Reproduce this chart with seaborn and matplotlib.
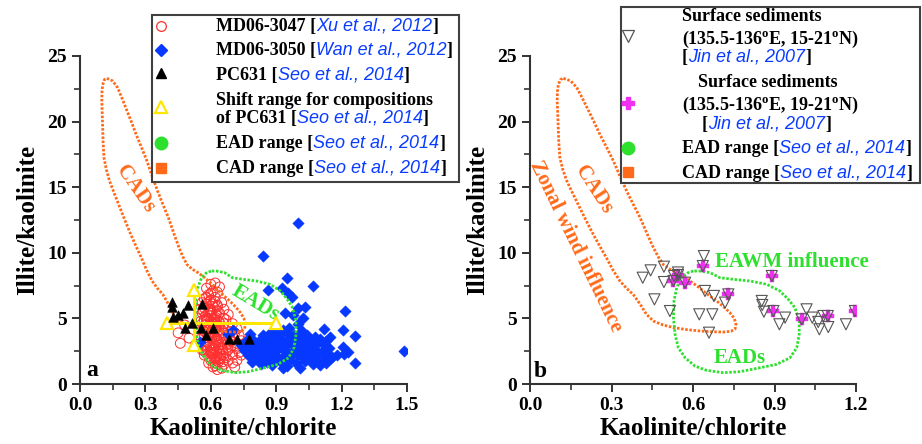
import matplotlib
matplotlib.use("Agg")
import matplotlib.pyplot as plt
import seaborn as sns
from matplotlib.lines import Line2D
from matplotlib.patches import Rectangle
from matplotlib.offsetbox import TextArea, HPacker, AnnotationBbox
from matplotlib.ticker import MultipleLocator, FormatStrFormatter

W, H = 922, 444
SERIF = "Liberation Serif"
SANS = "Liberation Sans"
CITE = "#0a3cff"
ORANGE = "#ff6a1a"
GREEN = "#2ee02e"
RED = "#ff3030"
BLUE = "#0638ff"
YELLOW = "#ffe600"
MAGENTA = "#f030f0"

# ---- panel a data ----
# MD06-3047 (Xu et al., 2012)
md3047_x = [0.58, 0.60, 0.62, 0.61, 0.59, 0.63, 0.64, 0.57, 0.60, 0.62, 0.65, 0.58,
            0.57, 0.59, 0.61, 0.63, 0.60, 0.62, 0.64, 0.66, 0.58, 0.68, 0.56,
            0.56, 0.58, 0.60, 0.62, 0.64, 0.66, 0.68, 0.70, 0.72, 0.59, 0.61, 0.63, 0.57, 0.65,
            0.57, 0.59, 0.60, 0.62, 0.63, 0.61, 0.64, 0.66, 0.68, 0.70, 0.72, 0.74, 0.58, 0.55,
            0.50, 0.46, 0.53, 0.65,
            0.58, 0.60, 0.62, 0.64, 0.63, 0.61, 0.59, 0.65, 0.67, 0.69, 0.66, 0.73, 0.71, 0.57,
            0.60, 0.62, 0.64, 0.61, 0.63, 0.66, 0.68, 0.71, 0.65, 0.59, 0.45, 0.48,
            0.60, 0.61, 0.62, 0.59, 0.63, 0.61, 0.60, 0.62, 0.64, 0.60, 0.63, 0.61,
            0.565, 0.575, 0.585, 0.595, 0.605, 0.615, 0.625, 0.635, 0.57, 0.59, 0.60, 0.61,
            0.625, 0.64, 0.655, 0.57, 0.585, 0.595, 0.605, 0.615, 0.625, 0.635, 0.645, 0.655,
            0.575, 0.585, 0.595, 0.605, 0.615, 0.625, 0.635, 0.645, 0.655, 0.60, 0.615, 0.625,
            0.635, 0.645, 0.655, 0.62, 0.67, 0.675, 0.68, 0.69, 0.70, 0.70, 0.72, 0.56,
            0.58, 0.60, 0.62, 0.61, 0.63, 0.595, 0.60, 0.55, 0.555, 0.545, 0.55, 0.54,
            0.56, 0.57, 0.66, 0.67, 0.69, 0.71, 0.73, 0.75, 0.74, 0.72]
md3047_y = [7.3, 7.6, 7.7, 7.1, 6.8, 7.0, 7.4, 6.5, 6.4, 6.6, 6.2, 6.1,
            5.8, 5.5, 5.9, 5.6, 5.2, 5.1, 5.4, 5.0, 5.0, 5.3, 5.4,
            4.6, 4.8, 4.5, 4.7, 4.4, 4.6, 4.3, 4.6, 4.2, 4.1, 4.2, 4.0, 4.3, 4.1,
            3.7, 3.5, 3.9, 3.6, 3.3, 3.1, 3.8, 3.5, 3.2, 3.6, 3.1, 3.3, 3.2, 3.4,
            3.5, 3.1, 3.0, 3.0,
            2.8, 2.6, 2.9, 2.5, 2.2, 2.3, 2.1, 2.7, 2.4, 2.8, 2.1, 2.4, 2.9, 2.5,
            1.8, 1.6, 1.9, 1.3, 1.1, 1.5, 1.8, 1.3, 1.2, 1.6, 3.9, 4.5,
            5.6, 4.9, 4.4, 3.8, 3.4, 2.7, 2.4, 2.0, 3.0, 5.7, 6.0, 4.6,
            5.6, 5.2, 4.9, 5.7, 5.4, 5.0, 5.3, 4.8, 4.9, 4.4, 4.8, 4.6,
            4.3, 4.7, 4.3, 4.0, 3.7, 3.3, 3.6, 3.9, 3.4, 3.7, 3.2, 3.9,
            3.0, 2.6, 2.9, 2.4, 2.7, 2.5, 2.8, 2.3, 2.6, 2.0, 1.9, 2.1,
            1.7, 2.0, 1.7, 1.4, 2.0, 3.0, 2.6, 3.3, 2.2, 1.6, 2.7, 6.2,
            6.6, 6.9, 6.3, 6.1, 5.9, 6.3, 5.5, 5.7, 4.8, 4.2, 3.7, 2.9,
            2.6, 2.2, 5.7, 4.9, 4.0, 3.9, 3.7, 3.0, 2.2, 1.8]

# MD06-3050 (Wan et al., 2012)
md3050_x = [0.93, 0.95, 1.01, 1.07, 1.10, 1.13, 0.83, 0.88,
            0.79, 0.82, 0.86, 0.89, 0.92, 0.96, 0.99, 1.03, 1.06, 1.09, 1.12, 1.15,
            0.77, 0.80, 0.83, 0.86, 0.89, 0.91, 0.94, 0.97, 1.00, 1.02, 1.05, 1.08, 1.11, 1.14, 1.18, 1.21,
            0.75, 0.78, 0.81, 0.84, 0.87, 0.90, 0.93, 0.95, 0.98, 1.01, 1.03, 1.06, 1.09, 1.12, 1.14, 1.00,
            0.74, 0.77, 0.80, 0.83, 0.85, 0.88, 0.91, 0.94, 0.97, 1.00, 1.02, 1.05, 1.08, 1.11, 1.13,
            0.76, 0.79, 0.82, 0.85, 0.88, 0.90, 0.93, 0.96, 0.99, 1.01, 1.04, 1.07, 1.10, 1.13,
            0.78, 0.84, 0.87, 0.91, 0.95, 0.98, 1.01, 1.04, 1.08, 1.12, 0.96, 1.00, 0.93, 1.02, 0.89,
            0.70, 0.68, 0.55,
            1.00, 0.838, 0.948, 1.07, 0.864, 0.925, 0.956, 0.971, 1.032, 1.00, 0.978, 0.94, 1.024,
            1.216, 1.208, 1.261, 1.486, 1.208, 1.231, 1.261, 1.155, 1.147]
md3050_y = [1.2, 1.35, 1.25, 1.5, 1.45, 1.6, 1.5, 1.45,
            1.7, 1.9, 1.7, 1.85, 1.65, 1.8, 1.6, 1.75, 1.9, 1.7, 1.85, 2.0,
            2.2, 2.05, 2.3, 2.15, 2.25, 2.0, 2.2, 2.1, 2.3, 2.05, 2.25, 2.1, 2.3, 2.15, 2.2, 2.3,
            2.6, 2.5, 2.7, 2.45, 2.65, 2.5, 2.7, 2.45, 2.6, 2.7, 2.5, 2.65, 2.45, 2.6, 2.75, 2.55,
            3.0, 2.85, 3.05, 2.9, 3.1, 2.85, 3.0, 2.9, 3.1, 2.95, 3.1, 2.85, 3.0, 3.15, 2.9,
            3.3, 3.45, 3.25, 3.5, 3.3, 3.45, 3.25, 3.4, 3.3, 3.5, 3.35, 3.2, 3.45, 3.3,
            3.8, 3.7, 3.9, 3.65, 3.85, 3.7, 3.9, 3.75, 3.6, 4.2, 4.3, 4.6, 4.1, 4.05, 4.0,
            4.1, 3.8, 3.2,
            12.3, 9.76, 8.06, 7.47, 7.16, 7.29, 6.9, 6.65, 5.9, 5.77, 5.26, 5.39, 5.0,
            5.59, 4.12, 3.69, 2.54, 2.84, 2.46, 1.63, 2.08, 3.6]

# PC631 (Seo et al., 2014)
pc631_x = [0.42, 0.42, 0.497, 0.56, 0.428, 0.451, 0.474, 0.482, 0.512, 0.555,
           0.612, 0.58, 0.685, 0.722, 0.777]
pc631_y = [6.27, 5.9, 6.02, 6.1, 5.13, 5.26, 5.39, 4.24, 4.68, 4.24,
           4.26, 3.7, 3.4, 3.4, 3.4]

# shift range for PC631 compositions
shift_center = (0.525, 4.62)
shift_xrange = [0.40, 0.90]
shift_yrange = [2.97, 7.16]

# ---- ranges (CAD / EAD) ----
cad_x = [0.123, 0.15, 0.172, 0.19, 0.209, 0.233, 0.258, 0.283, 0.307, 0.33, 0.356, 0.38,
         0.405, 0.43, 0.454, 0.472, 0.491, 0.515, 0.54, 0.565, 0.589, 0.613, 0.638, 0.662,
         0.687, 0.712, 0.736, 0.752, 0.758, 0.755, 0.74, 0.712, 0.67, 0.626, 0.575, 0.528,
         0.49, 0.454, 0.429, 0.405, 0.38, 0.355, 0.331, 0.305, 0.282, 0.257, 0.233, 0.208,
         0.184, 0.158, 0.135, 0.12, 0.11, 0.106, 0.104, 0.102, 0.10, 0.101, 0.104, 0.112, 0.123]
cad_y = [23.3, 23.1, 22.6, 21.9, 21.1, 20.1, 19.0, 18.0, 17.0, 15.9, 14.7, 13.7,
         12.7, 11.5, 10.4, 9.7, 9.1, 8.75, 8.5, 8.2, 7.85, 7.5, 7.09, 6.7,
         6.33, 5.9, 5.44, 5.0, 4.55, 4.2, 4.02, 3.96, 3.98, 4.04, 4.15, 4.3,
         4.5, 4.8, 5.3, 6.1, 6.83, 7.3, 7.85, 8.7, 9.6, 10.5, 11.4, 12.4,
         13.4, 14.5, 15.5, 16.4, 17.25, 18.4, 19.5, 20.6, 21.6, 22.3, 22.8, 23.2, 23.3]
ead_x = [0.601, 0.578, 0.558, 0.54, 0.53, 0.528, 0.534, 0.546, 0.571, 0.607, 0.65, 0.712,
         0.773, 0.847, 0.908, 0.957, 0.982, 0.991, 0.991, 0.975, 0.951, 0.92, 0.871, 0.81,
         0.748, 0.699, 0.663, 0.626, 0.601]
ead_y = [8.61, 8.45, 8.1, 7.34, 6.33, 5.06, 3.79, 2.77, 2.0, 1.37, 1.04, 0.86,
         0.94, 1.24, 1.5, 2.0, 2.77, 3.79, 4.8, 5.82, 6.45, 7.09, 7.6, 7.85,
         7.98, 8.1, 8.49, 8.61, 8.61]

# ---- panel b data ----
# surface sediments 135.5-136E, 15-21N (Jin et al., 2007)
sed15_x = [0.415, 0.444, 0.493, 0.493, 0.458, 0.515, 0.53, 0.545, 0.623, 0.671, 0.64,
           0.644, 0.677, 0.718, 0.659, 0.853, 0.855, 0.861, 0.918, 0.939, 1.018, 1.039,
           1.061, 1.065, 1.098, 1.08, 1.163,
           0.528, 0.571, 0.545, 0.636, 0.73, 0.89, 0.896, 1.0, 1.096, 1.196]
sed15_y = [8.1, 8.66, 8.94, 7.77, 6.45, 5.56, 8.23, 8.5, 5.31, 5.31, 9.75,
           7.09, 6.71, 6.2, 3.91, 6.33, 6.02, 5.51, 4.55, 5.06, 5.69, 5.06,
           4.73, 4.17, 4.34, 5.18, 4.55,
           7.85, 7.72, 8.3, 8.99, 6.83, 8.23, 5.56, 4.93, 5.18, 5.56]
# surface sediments 135.5-136E, 19-21N (Jin et al., 2007)
sed19_x = [0.528, 0.571, 0.545, 0.636, 0.73, 0.89, 0.896, 1.0, 1.096, 1.196]
sed19_y = [7.85, 7.72, 8.3, 8.99, 6.83, 8.23, 5.56, 4.93, 5.18, 5.56]

x_label = "Kaolinite/chlorite"
y_label = "Illite/kaolinite"

sns.set_theme(style="ticks")
plt.rcParams["font.family"] = [SERIF, "DejaVu Sans"]
plt.rcParams["font.weight"] = "bold"
plt.rcParams["mathtext.fontset"] = "custom"
plt.rcParams["mathtext.rm"] = "Liberation Serif:bold"
plt.rcParams["mathtext.bf"] = "Liberation Serif:bold"

fig = plt.figure(figsize=(W / 100, H / 100), dpi=100)
fig.patch.set_facecolor("white")
ax_a = fig.add_axes([80 / W, 1 - 384 / H, 327 / W, 328 / H])
ax_b = fig.add_axes([530 / W, 1 - 384 / H, 326 / W, 328 / H])


def style_axis(ax, xmax):
    ax.set_facecolor("white")
    ax.set_xlim(0, xmax)
    ax.set_ylim(0, 25)
    ax.xaxis.set_major_locator(MultipleLocator(0.3))
    ax.xaxis.set_minor_locator(MultipleLocator(0.15))
    ax.yaxis.set_major_locator(MultipleLocator(5))
    ax.yaxis.set_minor_locator(MultipleLocator(2.5))
    ax.xaxis.set_major_formatter(FormatStrFormatter("%.1f"))
    ax.tick_params(which="major", length=6, width=1.4, labelsize=14, direction="out",
                   color="#333333", labelcolor="black")
    ax.tick_params(which="minor", length=4, width=1.2, direction="out", color="#333333")
    ax.set_xlabel(x_label, fontsize=18, fontweight="bold", color="black", labelpad=2)
    ax.set_ylabel(y_label, fontsize=18, fontweight="bold", color="black", labelpad=6)
    sns.despine(ax=ax)
    for side in ("left", "bottom"):
        ax.spines[side].set_linewidth(1.5)
        ax.spines[side].set_color("#333333")


def draw_ranges(ax):
    dots = (0, (0.9, 0.6))
    ax.plot(cad_x, cad_y, ls=dots, lw=2.0, color=ORANGE, zorder=3)
    ax.plot(ead_x, ead_y, ls=dots, lw=2.0, color=GREEN, zorder=3)


# panel a
style_axis(ax_a, 1.5)
sns.scatterplot(x=md3047_x, y=md3047_y, ax=ax_a, marker="o", s=50, facecolor="none",
                edgecolor=RED, linewidth=0.7, zorder=2)
sns.scatterplot(x=md3050_x, y=md3050_y, ax=ax_a, marker="D", s=34, color=BLUE,
                edgecolor=BLUE, linewidth=0.3, zorder=2)
draw_ranges(ax_a)
cx, cy = shift_center
ax_a.plot(shift_xrange, [cy, cy], color=YELLOW, lw=2.2, zorder=4)
ax_a.plot([cx, cx], shift_yrange, color=YELLOW, lw=2.2, zorder=4)
ax_a.plot(shift_xrange + [cx, cx], [cy, cy] + shift_yrange, ls="none", marker="^", ms=8,
          mfc="white", mec=YELLOW, mew=1.6, zorder=4)
sns.scatterplot(x=pc631_x, y=pc631_y, ax=ax_a, marker="^", s=48, color="black",
                edgecolor="black", linewidth=0.4, zorder=5)
ax_a.text(0.252, 14.9, "CADs", rotation=-55, color=ORANGE, fontsize=15,
          ha="center", va="center", rotation_mode="anchor")
ax_a.text(0.807, 6.15, "EADs", rotation=-31, color=GREEN, fontsize=15,
          ha="center", va="center", rotation_mode="anchor")
ax_a.text(0.054, 1.0, "a", fontsize=17, ha="center", va="center", color="black")

# panel b
style_axis(ax_b, 1.2)
draw_ranges(ax_b)
sns.scatterplot(x=sed19_x, y=sed19_y, ax=ax_b, marker="P", s=85, color=MAGENTA,
                edgecolor=MAGENTA, linewidth=0.3, zorder=3)
sns.scatterplot(x=sed15_x, y=sed15_y, ax=ax_b, marker="v", s=64, facecolor="none",
                edgecolor="#555555", linewidth=0.8, zorder=4)
ax_b.text(0.233, 14.8, "CADs", rotation=-57, color=ORANGE, fontsize=15,
          ha="center", va="center", rotation_mode="anchor")
ax_b.text(0.168, 10.5, "Zonal wind influence", rotation=-64, color=ORANGE, fontsize=15,
          ha="center", va="center", rotation_mode="anchor")
ax_b.text(0.963, 9.32, "EAWM influence", color=GREEN, fontsize=15, ha="center", va="center")
ax_b.text(0.771, 1.96, "EADs", color=GREEN, fontsize=15, ha="center", va="center")
ax_b.text(0.037, 0.99, "b", fontsize=17, ha="center", va="center", color="black")


# ---- legends, built by hand because of the mixed fonts ----
def legend_line(px, py, parts, size=13):
    boxes = []
    for txt, cite in parts:
        if cite:
            props = dict(family=SANS, style="italic", weight="normal", color=CITE, size=size)
        else:
            props = dict(family=SERIF, weight="bold", color="black", size=size)
        boxes.append(TextArea(txt, textprops=props))
    pack = HPacker(children=boxes, align="baseline", pad=0, sep=0)
    ab = AnnotationBbox(pack, (px, H - py), xycoords="figure pixels", box_alignment=(0, 0.5),
                        frameon=False, pad=0, zorder=6)
    fig.add_artist(ab)


def legend_marker(px, py, **kw):
    fig.add_artist(Line2D([px / W], [1 - py / H], transform=fig.transFigure, ls="none",
                          zorder=6, **kw))


def legend_frame(x0, y0, x1, y1):
    fig.add_artist(Rectangle((x0 / W, 1 - y1 / H), (x1 - x0) / W, (y1 - y0) / H,
                             transform=fig.transFigure, facecolor="white",
                             edgecolor="#404040", lw=1.5, zorder=5))


seo = [("Seo et al., 2014", True), ("]", False)]
jin = [("[", False), ("Jin et al., 2007", True), ("]", False)]
deg = "$^{\\mathrm{o}}$"

legend_frame(152, 15, 459, 182)
legend_line(216, 26, [("MD06-3047 [", False), ("Xu et al., 2012", True), ("]", False)])
legend_line(216, 50, [("MD06-3050 [", False), ("Wan et al., 2012", True), ("]", False)])
legend_line(216, 75, [("PC631 [", False)] + seo)
legend_line(216, 100, [("Shift range for compositions", False)])
legend_line(216, 118, [("of PC631 [", False)] + seo)
legend_line(216, 143, [("EAD range [", False)] + seo)
legend_line(216, 168, [("CAD range [", False)] + seo)
legend_marker(161, 26, marker="o", ms=7, mfc="none", mec=RED, mew=0.9)
legend_marker(161, 50, marker="D", ms=6, mfc=BLUE, mec=BLUE)
legend_marker(161, 73, marker="^", ms=7.5, mfc="black", mec="black")
legend_marker(161, 107, marker="^", ms=8, mfc="white", mec=YELLOW, mew=1.6)
legend_marker(161, 143, marker="o", ms=9, mfc=GREEN, mec=GREEN)
legend_marker(161, 168, marker="s", ms=7.5, mfc=ORANGE, mec=ORANGE)

legend_frame(621, 7, 920, 183)
legend_line(682, 16, [("Surface sediments", False)])
legend_line(682, 39, [("(135.5-136" + deg + "E, 15-21" + deg + "N)", False)])
legend_line(682, 57, jin)
legend_line(698, 82, [("Surface sediments", False)])
legend_line(682, 105, [("(135.5-136" + deg + "E, 19-21" + deg + "N)", False)])
legend_line(702, 124, jin)
legend_line(682, 148, [("EAD range [", False)] + seo)
legend_line(682, 173, [("CAD range [", False)] + seo)
legend_marker(628, 36, marker="v", ms=8, mfc="none", mec="#555555", mew=0.9)
legend_marker(628, 103, marker="P", ms=9, mfc=MAGENTA, mec=MAGENTA)
legend_marker(628, 148, marker="o", ms=9, mfc=GREEN, mec=GREEN)
legend_marker(628, 172, marker="s", ms=7.5, mfc=ORANGE, mec=ORANGE)

fig.savefig("out.png", dpi=100, facecolor="white")
